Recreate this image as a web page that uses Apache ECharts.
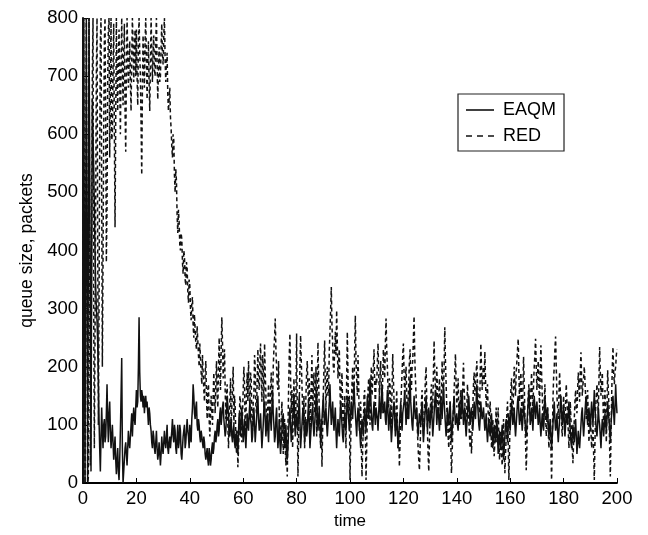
<!DOCTYPE html>
<html>
<head>
<meta charset="utf-8">
<script src="https://cdn.jsdelivr.net/npm/echarts@6/dist/echarts.min.js"></script>
<style>
html,body{margin:0;padding:0;background:#fff;}
#chart{width:648px;height:535px;}
</style>
</head>
<body>
<div id="chart"></div>
<script>
// sampling step of time
const timeStep = 0.25;
const xTicks = [0, 20, 40, 60, 80, 100, 120, 140, 160, 180, 200];
const yTicks = [0, 100, 200, 300, 400, 500, 600, 700, 800];
const seriesNames = ['EAQM', 'RED'];

// EAQM queue size, one value per 0.25 time unit (t = 0 .. 200), 40 values per row = 10 time units
const eaqm = [
  0,800,800,0,0,800,800,0,0,800,800,300,20,400,660,600,540,480,400,340,300,280,240,180,110,60,20,80,130,90,60,100,110,70,80,120,170,110,70,120,
  140,90,60,80,100,70,40,60,80,40,15,40,60,20,5,40,90,150,215,60,0,20,40,60,70,50,30,60,90,70,60,80,100,120,80,110,130,110,100,130,
  160,130,140,200,285,190,150,140,160,150,130,150,120,140,150,130,140,120,100,130,120,100,90,70,60,90,80,60,50,70,90,60,40,50,70,50,30,50,80,60,
  50,70,90,70,60,80,100,60,50,70,80,60,60,90,110,80,70,100,90,60,50,80,100,60,70,100,90,50,40,60,80,90,100,60,70,90,110,90,80,60,
  100,80,70,110,130,170,150,120,110,130,140,100,90,110,100,80,70,90,90,70,60,80,70,50,40,50,60,40,30,60,50,30,40,60,70,50,60,80,90,70,
  80,100,110,80,90,120,130,100,100,130,140,110,110,80,90,120,150,130,120,90,80,100,110,80,70,90,100,70,60,80,90,60,50,90,120,100,80,110,130,100,
  70,90,110,80,60,90,120,100,90,120,140,110,100,70,80,110,130,100,70,90,110,130,150,110,90,100,120,90,60,80,100,130,140,110,80,100,120,90,70,110,
  130,110,90,130,160,120,100,70,80,110,130,90,60,80,110,70,50,70,90,110,120,90,60,80,100,60,40,60,90,110,130,100,70,90,110,130,150,110,80,100,
  120,100,90,120,150,110,60,80,100,120,130,100,70,90,110,80,90,120,140,100,60,80,100,120,130,100,80,100,120,140,160,120,90,110,130,100,70,90,110,130,
  150,120,100,120,130,100,80,100,120,140,170,130,100,120,140,110,90,110,130,90,60,90,110,90,80,110,140,120,100,80,70,100,120,100,90,120,150,130,110,90,
  90,120,140,120,110,140,170,140,120,100,80,110,130,110,100,80,60,90,110,100,80,110,130,110,90,120,150,130,110,140,180,150,120,100,90,120,140,120,100,130,
  130,110,90,120,150,130,110,140,170,140,120,130,140,110,100,130,160,120,90,110,130,100,70,90,110,130,140,110,80,100,120,90,60,80,100,120,140,110,90,120,
  120,140,160,130,100,120,140,120,110,150,180,140,120,100,90,120,150,130,110,120,130,100,80,100,120,110,100,120,140,100,70,90,110,130,150,120,90,110,130,110,
  100,120,140,110,80,100,120,140,160,130,100,120,130,110,90,120,150,130,110,140,170,140,120,100,80,100,130,110,100,120,140,110,70,90,110,130,150,120,100,110,
  120,100,90,120,140,120,110,130,160,130,100,120,130,100,80,100,120,140,150,120,100,120,130,110,90,110,140,120,110,140,170,140,120,100,90,110,140,120,110,120,
  130,110,90,100,120,90,70,90,110,90,80,100,120,90,60,80,100,80,70,90,110,80,50,70,90,70,60,80,100,70,40,60,80,100,110,90,70,100,120,100,
  90,120,140,120,100,110,130,100,80,100,120,140,150,120,100,110,130,110,90,110,140,120,110,90,80,100,120,140,160,130,100,110,130,110,90,120,150,130,110,130,
  140,120,100,110,130,100,80,100,120,100,90,120,150,130,110,120,130,100,80,90,110,80,60,80,100,120,140,110,90,100,120,90,70,90,110,130,150,120,100,120,
  130,100,80,100,120,110,100,120,140,110,90,70,60,80,100,80,70,90,110,80,50,70,90,70,60,80,100,120,130,100,80,100,120,140,150,120,100,110,130,110,
  90,120,140,120,100,130,160,130,110,90,80,100,130,110,100,80,60,90,110,100,80,100,120,100,90,110,140,120,110,90,70,100,120,140,150,120,100,130,170,140,
  120
];

// RED queue size, one value per 0.25 time unit (t = 0 .. 200), 40 values per row = 10 time units
const red = [
  0,800,800,0,0,800,800,0,10,800,800,30,150,420,700,800,300,60,250,480,700,800,420,100,300,560,760,800,500,200,380,600,760,800,620,380,480,690,780,800,
  560,680,800,590,600,720,790,600,440,620,800,700,640,730,780,690,600,710,800,720,650,740,790,640,570,700,800,740,680,720,760,690,640,730,800,760,690,740,780,700,
  780,700,650,760,800,740,700,620,530,680,770,720,680,760,800,730,660,720,760,690,640,720,800,750,690,740,770,710,700,760,800,720,660,710,750,690,700,750,790,740,
  720,770,800,730,690,720,740,670,640,660,680,630,610,580,560,600,590,530,500,540,520,460,430,470,450,410,400,430,420,380,360,400,390,350,340,380,370,330,310,350,
  340,300,280,310,320,270,250,290,290,240,230,270,270,220,200,240,240,190,170,220,220,160,140,190,210,150,110,160,170,110,80,120,150,120,100,150,190,150,120,170,
  210,150,130,200,250,190,160,230,285,240,180,210,230,160,110,150,170,100,60,120,140,180,90,130,165,200,100,150,130,80,50,90,27,60,90,150,140,100,70,120,
  120,200,170,90,110,160,190,140,210,160,130,190,180,110,90,140,150,220,200,130,120,180,230,170,160,210,240,180,140,220,200,130,240,190,150,100,90,140,170,120,
  110,160,190,140,130,200,230,250,283,230,200,170,160,210,120,80,70,110,140,90,50,80,110,60,30,70,11,90,160,220,257,180,120,160,60,110,180,130,90,140,
  257,120,11,80,140,200,254,210,170,130,100,150,60,110,150,190,210,160,130,180,80,130,170,220,110,160,190,120,140,200,80,160,242,180,120,90,60,110,28,90,
  150,200,245,170,130,180,200,150,160,230,260,300,337,270,240,200,190,230,260,220,297,240,180,210,230,160,120,170,190,130,80,120,150,100,60,180,260,180,110,150,
  5,70,130,170,200,140,150,230,288,210,180,150,220,170,90,130,140,60,11,60,100,150,160,90,5,60,120,160,180,140,100,170,200,150,150,200,230,170,130,180,
  170,210,240,190,150,180,210,160,120,180,230,200,180,240,283,230,200,160,130,180,170,140,100,160,222,180,140,110,90,130,160,100,60,90,28,70,130,160,190,220,
  240,190,150,180,200,150,110,140,170,210,230,180,160,200,210,250,287,220,180,150,120,90,60,40,22,60,100,140,160,110,80,120,140,180,200,140,90,50,20,70,
  110,150,170,120,130,190,245,190,160,130,200,160,120,150,180,130,100,160,210,170,150,200,268,210,170,130,110,80,60,100,140,70,17,50,90,130,160,190,222,170,
  130,160,180,130,100,130,160,110,120,170,207,160,140,110,90,130,170,140,110,80,60,90,51,90,130,170,190,150,150,190,210,170,170,130,120,180,240,200,160,190,
  200,170,226,180,130,150,170,120,90,120,140,100,60,80,110,70,46,70,100,130,70,100,130,80,40,60,90,50,30,70,110,60,17,50,80,120,140,70,5,60,
  120,160,180,130,110,160,200,170,150,190,210,230,248,190,140,170,190,140,100,160,217,170,120,70,22,60,110,150,170,140,130,160,190,150,120,170,200,220,248,200,
  160,190,210,170,130,190,237,190,150,120,100,140,170,120,80,110,130,90,60,90,110,60,5,70,140,180,200,230,252,200,150,130,110,150,191,160,130,100,80,120,
  150,120,100,140,170,140,120,90,60,100,140,110,90,60,34,70,110,140,160,130,120,160,190,160,140,190,225,180,150,170,180,200,202,150,110,140,160,110,70,100,
  120,90,60,80,100,50,5,70,130,150,170,140,120,180,234,190,150,170,190,140,100,130,160,110,70,130,194,160,130,60,11,80,150,200,234,190,170,190,200,220,
  230
];

const toPairs = arr => arr.map((v, i) => [i * timeStep, v]);

const font = '"Liberation Sans", Arial, Helvetica, sans-serif';
const solidIcon = 'path://M0,0h28v1.6h-28z';
const dashIcon = 'path://M0,0h6v1.6h-6zM11,0h6v1.6h-6zM22,0h6v1.6h-6z';
const chart = echarts.init(document.getElementById('chart'), null, {renderer: 'canvas'});
chart.setOption({
  animation: false,
  backgroundColor: '#ffffff',
  textStyle: {fontFamily: font, color: '#000'},
  grid: {left: 83, right: 31, top: 18, bottom: 52, containLabel: false},
  legend: {
    left: 458, top: 94,
    orient: 'vertical',
    data: [
      {name: seriesNames[0], icon: solidIcon},
      {name: seriesNames[1], icon: dashIcon}
    ],
    backgroundColor: '#fff',
    borderColor: '#222', borderWidth: 1.2,
    padding: [7, 8, 6, 8],
    itemWidth: 28, itemHeight: 1.6, itemGap: 8,
    textStyle: {fontFamily: font, fontSize: 18, color: '#000', padding: [0, 0, 0, 4]}
  },
  xAxis: {
    type: 'value', min: xTicks[0], max: xTicks[xTicks.length - 1], interval: 20,
    name: 'time', nameLocation: 'middle', nameGap: 26,
    nameTextStyle: {fontFamily: font, fontSize: 17, color: '#000'},
    axisLine: {show: true, onZero: false, lineStyle: {color: '#000', width: 1.8}},
    axisTick: {show: true, inside: true, length: 5, lineStyle: {color: '#000', width: 1}},
    axisLabel: {fontFamily: font, fontSize: 18.5, color: '#000', margin: 6},
    splitLine: {show: false}
  },
  yAxis: {
    type: 'value', min: yTicks[0], max: yTicks[yTicks.length - 1], interval: 100,
    name: 'queue size, packets', nameLocation: 'middle', nameGap: 46, nameRotate: 90,
    nameTextStyle: {fontFamily: font, fontSize: 17.5, color: '#000'},
    axisLine: {show: true, onZero: false, lineStyle: {color: '#000', width: 1.8}},
    axisTick: {show: true, inside: true, length: 5, lineStyle: {color: '#000', width: 1}},
    axisLabel: {fontFamily: font, fontSize: 18.5, color: '#000', margin: 5},
    splitLine: {show: false}
  },
  series: [
    {
      name: seriesNames[0], type: 'line', data: toPairs(eaqm),
      symbol: 'none', showSymbol: false, clip: true,
      lineStyle: {color: '#111', width: 1.5, type: 'solid'},
      itemStyle: {color: '#111'}
    },
    {
      name: seriesNames[1], type: 'line', data: toPairs(red),
      symbol: 'none', showSymbol: false, clip: true,
      lineStyle: {color: '#111', width: 1.5, type: [4, 3]},
      itemStyle: {color: '#111'}
    }
  ]
});
</script>
</body>
</html>
